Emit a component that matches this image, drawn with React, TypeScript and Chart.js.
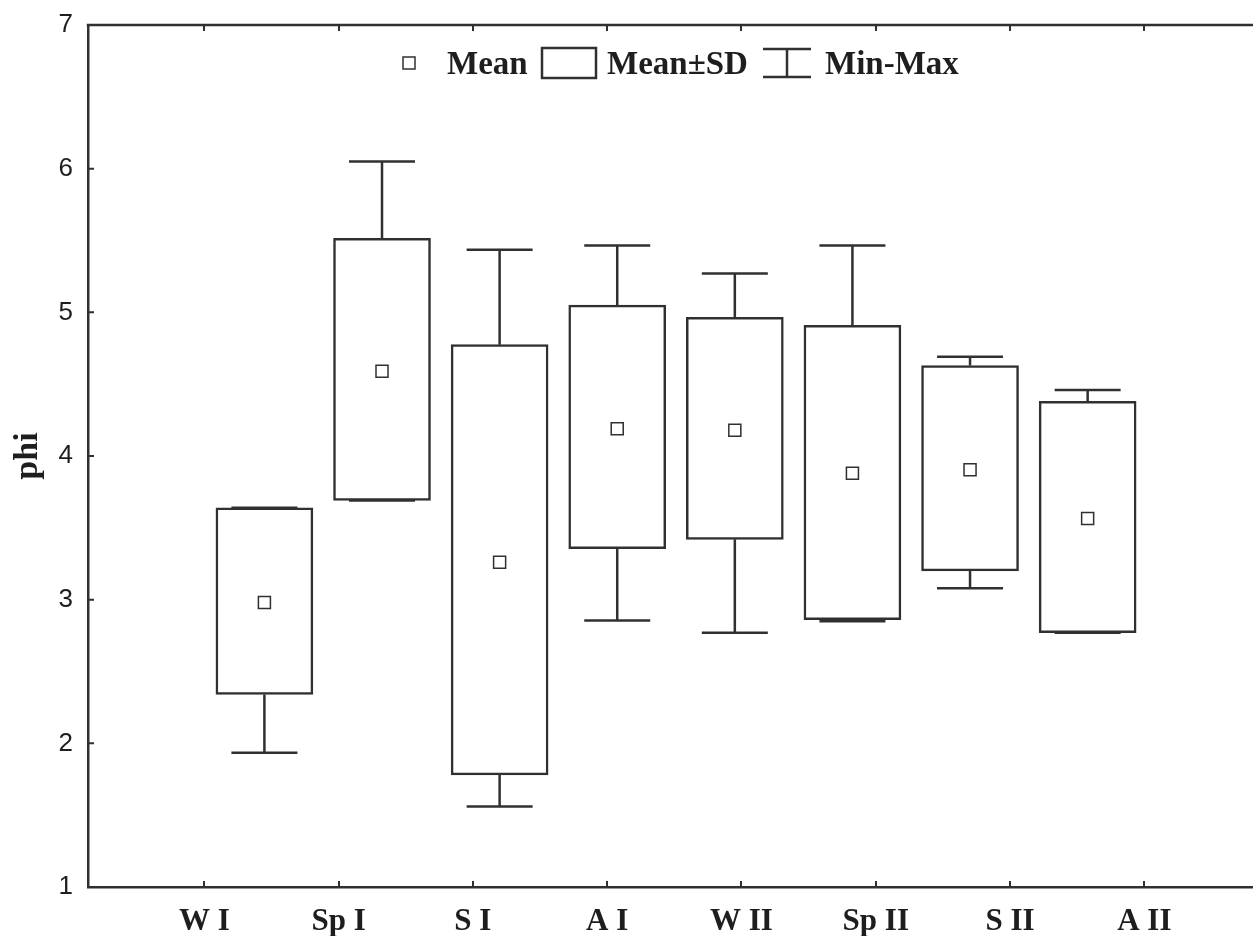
import React, { useEffect, useRef } from 'react';
import { Chart, registerables } from 'chart.js';

Chart.register(...registerables);

// ---- data ----
const categories = ['W I', 'Sp I', 'S I', 'A I', 'W II', 'Sp II', 'S II', 'A II'];
const means = [2.98, 4.59, 3.26, 4.19, 4.18, 3.88, 3.905, 3.565];
const sdLow = [2.34, 3.69, 1.78, 3.355, 3.42, 2.86, 3.20, 2.77];
const sdHigh = [3.64, 5.515, 4.775, 5.05, 4.965, 4.91, 4.63, 4.38];
const minVals = [1.935, 3.69, 1.56, 2.855, 2.77, 2.85, 3.08, 2.77];
const maxVals = [3.64, 6.05, 5.435, 5.465, 5.27, 5.465, 4.69, 4.46];
const yTicks = [1, 2, 3, 4, 5, 6, 7];
const boxPositions = [1, 2, 3, 4, 5, 6, 7, 8];
const labelPositions = [1, 2, 3, 4, 5, 6, 7, 8];
const legendLabels = ['Mean', 'Mean±SD', 'Min-Max'];

const LINE = '#303030';
const TEXT = '#1e1e1e';
const SERIF_BOLD = (px: number) => `bold ${px}px "Liberation Serif", "Times New Roman", serif`;

const zeroPadding = (scale: any) => {
  scale.paddingTop = 0;
  scale.paddingBottom = 0;
  scale.paddingLeft = 0;
  scale.paddingRight = 0;
};

const whiskerPlugin = {
  id: 'whiskers',
  beforeDatasetsDraw(chart: any) {
    const ctx = chart.ctx;
    const xs = chart.scales.x;
    const ys = chart.scales.y;
    const cap = 33;
    ctx.save();
    ctx.strokeStyle = LINE;
    ctx.lineWidth = 2.5;
    boxPositions.forEach((pos, i) => {
      const px = xs.getPixelForValue(pos);
      const segs = [
        [sdHigh[i], maxVals[i]],
        [sdLow[i], minVals[i]],
      ];
      for (const [from, to] of segs) {
        const y0 = ys.getPixelForValue(from);
        const y1 = ys.getPixelForValue(to);
        ctx.beginPath();
        ctx.moveTo(px, y0);
        ctx.lineTo(px, y1);
        ctx.moveTo(px - cap, y1);
        ctx.lineTo(px + cap, y1);
        ctx.stroke();
      }
    });
    ctx.restore();
  },
};

const framePlugin = {
  id: 'frame',
  afterDraw(chart: any) {
    const ctx = chart.ctx;
    const { left, right, top, bottom } = chart.chartArea;
    const xl = chart.scales.xl;
    const ys = chart.scales.y;
    ctx.save();
    ctx.strokeStyle = LINE;
    ctx.lineWidth = 2.5;
    ctx.beginPath();
    ctx.moveTo(left - 1.25, top);
    ctx.lineTo(right, top);
    ctx.stroke();
    ctx.lineWidth = 2;
    ctx.beginPath();
    labelPositions.forEach((v) => {
      const px = Math.round(xl.getPixelForValue(v));
      ctx.moveTo(px, bottom);
      ctx.lineTo(px, bottom - 6);
      ctx.moveTo(px, top);
      ctx.lineTo(px, top + 6);
    });
    yTicks.forEach((v) => {
      const py = ys.getPixelForValue(v);
      ctx.moveTo(left, py);
      ctx.lineTo(left + 6, py);
    });
    ctx.stroke();
    ctx.restore();
  },
};

const legendPlugin = {
  id: 'customLegend',
  afterDraw(chart: any) {
    const ctx = chart.ctx;
    ctx.save();
    ctx.strokeStyle = LINE;
    ctx.fillStyle = '#ffffff';
    const cy = 63;
    // mean marker
    ctx.lineWidth = 1.5;
    ctx.fillRect(403, cy - 6, 12, 12);
    ctx.strokeRect(403, cy - 6, 12, 12);
    // SD box
    ctx.lineWidth = 2.5;
    ctx.strokeRect(542, 48, 54, 30);
    // whisker icon
    ctx.beginPath();
    ctx.moveTo(763, 49);
    ctx.lineTo(811, 49);
    ctx.moveTo(787, 49);
    ctx.lineTo(787, 77);
    ctx.moveTo(763, 77);
    ctx.lineTo(811, 77);
    ctx.stroke();
    // texts
    ctx.fillStyle = TEXT;
    ctx.font = SERIF_BOLD(33);
    ctx.textBaseline = 'alphabetic';
    ctx.textAlign = 'left';
    ctx.fillText(legendLabels[0], 447, 74);
    ctx.fillText(legendLabels[1], 607, 74);
    ctx.fillText(legendLabels[2], 825, 74);
    ctx.restore();
  },
};

export default function App() {
  const canvasRef = useRef<HTMLCanvasElement | null>(null);

  useEffect(() => {
    const canvas = canvasRef.current;
    if (!canvas) return;
    const chart = new Chart(canvas, {
      type: 'bar',
      data: {
        datasets: [
          {
            type: 'scatter',
            label: 'Mean',
            order: 1,
            data: boxPositions.map((p, i) => ({ x: p, y: means[i] })),
            xAxisID: 'x',
            yAxisID: 'y',
            pointStyle: 'rect',
            pointRadius: 8.5,
            pointBackgroundColor: '#ffffff',
            pointBorderColor: LINE,
            pointBorderWidth: 1.5,
            showLine: false,
          } as any,
          {
            type: 'bar',
            label: 'Mean±SD',
            order: 2,
            data: boxPositions.map((p, i) => ({ x: p, y: [sdLow[i], sdHigh[i]] })) as any,
            xAxisID: 'x',
            yAxisID: 'y',
            backgroundColor: '#ffffff',
            borderColor: LINE,
            borderWidth: 2.5,
            borderSkipped: false,
            barThickness: 97,
          } as any,
        ],
      },
      options: {
        animation: false,
        responsive: false,
        devicePixelRatio: 1,
        events: [],
        layout: { autoPadding: false, padding: { top: 25, right: 0, left: 0, bottom: 0 } },
        plugins: {
          legend: { display: false },
          tooltip: { enabled: false },
        },
        scales: {
          x: {
            type: 'linear',
            display: false,
            offset: false,
            min: -0.5,
            max: 9.406,
            afterFit: zeroPadding,
          },
          xl: {
            type: 'linear',
            position: 'bottom',
            offset: false,
            min: 0.134,
            max: 8.809,
            afterBuildTicks: (scale: any) => {
              scale.ticks = labelPositions.map((v) => ({ value: v }));
            },
            afterFit: (scale: any) => {
              scale.height = 49;
              zeroPadding(scale);
            },
            ticks: {
              autoSkip: false,
              maxRotation: 0,
              padding: 16,
              color: TEXT,
              font: { family: '"Liberation Serif", "Times New Roman", serif', size: 31, weight: 'bold' },
              callback: (v: any) => {
                const idx = labelPositions.indexOf(Number(v));
                return idx >= 0 ? categories[idx] : '';
              },
            },
            grid: { display: false, drawTicks: false },
            border: { display: true, color: LINE, width: 2.5 },
          },
          y: {
            type: 'linear',
            position: 'left',
            min: 1,
            max: 7,
            afterBuildTicks: (scale: any) => {
              scale.ticks = yTicks.map((v) => ({ value: v }));
            },
            afterFit: (scale: any) => {
              scale.width = 88;
              zeroPadding(scale);
            },
            ticks: {
              padding: 15,
              color: TEXT,
              font: { family: '"Liberation Sans", Arial, sans-serif', size: 26 },
            },
            grid: { display: false, drawTicks: false },
            border: { display: true, color: LINE, width: 2.5 },
            title: {
              display: true,
              text: 'phi',
              color: TEXT,
              padding: { top: 8, bottom: 0 },
              font: { family: '"Liberation Serif", "Times New Roman", serif', size: 34, weight: 'bold' },
            },
          },
        },
      } as any,
      plugins: [whiskerPlugin, framePlugin, legendPlugin],
    });
    return () => chart.destroy();
  }, []);

  return (
    <div style={{ position: 'fixed', left: 0, top: 0, width: 1253, height: 936, background: '#ffffff' }}>
      <canvas ref={canvasRef} width={1253} height={936} style={{ display: 'block' }} />
    </div>
  );
}
